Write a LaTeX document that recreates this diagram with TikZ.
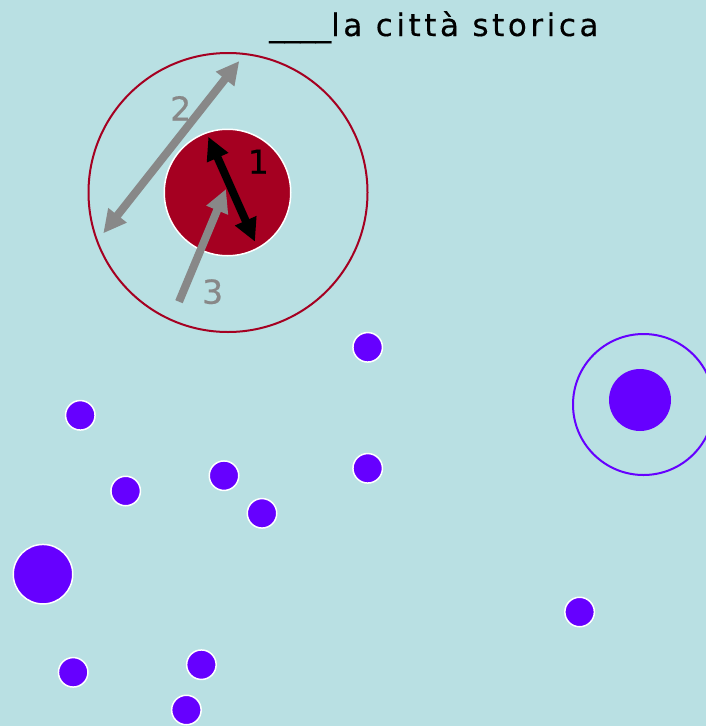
\documentclass[tikz,border=0pt]{standalone}
\usepackage{fontspec}
\setmainfont{DejaVu Sans}
\usetikzlibrary{arrows.meta}
\definecolor{bg}{RGB}{185,224,227}
\definecolor{cityred}{RGB}{165,0,33}
\definecolor{purp}{RGB}{102,0,255}
\definecolor{arrgray}{RGB}{136,136,136}
\tikzset{
  dot/.style={circle, fill=purp, draw=white, line width=1.5pt, minimum size=29.5pt, inner sep=0pt},
  bigdot/.style={circle, fill=purp, draw=white, line width=1.5pt, minimum size=59.5pt, inner sep=0pt},
  ring/.style={circle, draw=#1, line width=2pt, inner sep=0pt},
  numlabel/.style={font=\fontsize{33}{33}\selectfont\addfontfeature{FakeBold=0.4}, inner sep=0pt},
  fatarrow/.style={line width=8pt, draw=#1, -{Triangle[length=23pt,width=22pt]}},
  dblarrow/.style={line width=8pt, draw=#1, {Triangle[length=23pt,width=22pt]}-{Triangle[length=23pt,width=22pt]}}
}
\begin{document}
\begin{tikzpicture}[x=1pt,y=-1pt]
\useasboundingbox (0,0) rectangle (706,726);
\clip (0,0) rectangle (706,726);
\fill[bg] (0,0) rectangle (706,726);

% title
\node[anchor=base west, inner sep=0pt, font=\fontsize{31}{31}\selectfont\addfontfeature{FakeBold=0.4}] (title) at (269,36)
  {\_\_\_\_{\addfontfeature{LetterSpace=11.5}la città storica}};

% historic city
\node[ring=cityred, minimum size=279pt] (outer) at (228,192.5) {};
\node[circle, fill=cityred, draw=white, line width=1.5pt, minimum size=126.5pt, inner sep=0pt] (core) at (227.5,192.5) {};

\coordinate (a1s) at (208.3,136.7);
\coordinate (a1e) at (255,241.7);
\coordinate (a2s) at (239.3,61);
\coordinate (a2e) at (103.3,233.3);
\coordinate (a3s) at (179,301.7);
\coordinate (a3e) at (226,189);
\draw[dblarrow=black] (a1s) -- (a1e);
\draw[dblarrow=arrgray] (a2s) -- (a2e);
\draw[fatarrow=arrgray] (a3s) -- (a3e);

\node[numlabel, text=black] (l1) at (258.3,161.7) {1};
\node[numlabel, text=arrgray] (l2) at (180.7,108.3) {2};
\node[numlabel, text=arrgray] (l3) at (212.7,291.7) {3};

% right purple group
\node[ring=purp, minimum size=141pt] (pring) at (643.5,404.5) {};
\node[circle, fill=purp, minimum size=62pt, inner sep=0pt] (pcore) at (640,400) {};

% dots
\node[dot] (d1) at (367.7,347.3) {};
\node[dot] (d2) at (80.3,415.3) {};
\node[dot] (d3) at (125.7,491) {};
\node[dot] (d4) at (224,475.7) {};
\node[dot] (d5) at (367.7,468.3) {};
\node[dot] (d6) at (262,513.3) {};
\node[dot] (d7) at (579.6,612) {};
\node[dot] (d8) at (73.2,672.3) {};
\node[dot] (d9) at (201.4,664.7) {};
\node[dot] (d10) at (186.4,710) {};
\node[bigdot] (big) at (43,574.2) {};
\end{tikzpicture}
\end{document}
